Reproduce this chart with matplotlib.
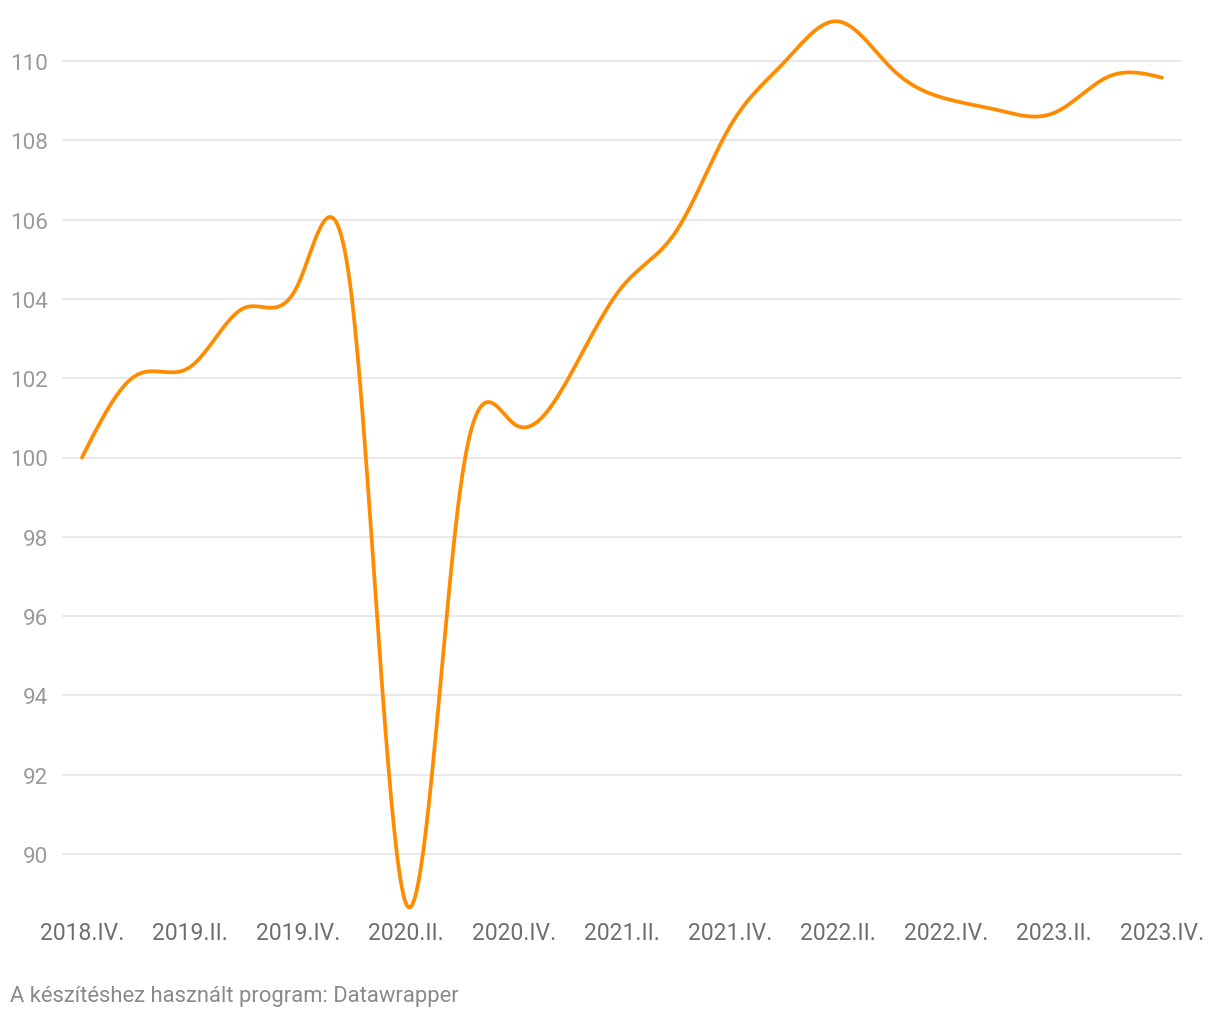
import numpy as np
import matplotlib
matplotlib.use("Agg")
import matplotlib.pyplot as plt

plt.rcParams['font.family'] = ['Roboto', 'DejaVu Sans']

# quarterly volume index, 2018.IV = 100
quarters = ['2018.IV.', '2019.I.', '2019.II.', '2019.III.', '2019.IV.',
            '2020.I.', '2020.II.', '2020.III.', '2020.IV.',
            '2021.I.', '2021.II.', '2021.III.', '2021.IV.',
            '2022.I.', '2022.II.', '2022.III.', '2022.IV.',
            '2023.I.', '2023.II.', '2023.III.', '2023.IV.']
values = [100.0, 102.07, 102.28, 103.77, 104.36,
          103.98, 88.75, 99.15, 100.85,
          101.98, 104.3, 105.7, 108.35,
          109.96, 111.0, 109.8, 109.05,
          108.75, 108.69, 109.6, 109.58]
yticks = [90, 92, 94, 96, 98, 100, 102, 104, 106, 108, 110]

LINE = '#ff8c00'
GRID = '#e3e3e3'


def natural_spline(y, steps=40):
    """natural cubic spline through equally spaced points (like d3 curveNatural)"""
    y = np.asarray(y, dtype=float)
    n = len(y)
    A = np.zeros((n, n))
    b = np.zeros(n)
    A[0, 0] = 1
    A[-1, -1] = 1
    for i in range(1, n - 1):
        A[i, i - 1] = 1
        A[i, i] = 4
        A[i, i + 1] = 1
        b[i] = 6 * (y[i + 1] - 2 * y[i] + y[i - 1])
    M = np.linalg.solve(A, b)
    xs, ys = [], []
    for i in range(n - 1):
        t = np.linspace(0, 1, steps, endpoint=False)
        a = y[i]
        c2 = M[i] / 2
        c3 = (M[i + 1] - M[i]) / 6
        c1 = (y[i + 1] - y[i]) - (2 * M[i] + M[i + 1]) / 6
        xs.append(i + t)
        ys.append(a + c1 * t + c2 * t ** 2 + c3 * t ** 3)
    xs.append([n - 1])
    ys.append([y[-1]])
    return np.concatenate(xs), np.concatenate(ys)


W, H = 1220, 1020
fig = plt.figure(figsize=(W / 100, H / 100), dpi=100)
ax_left, ax_right, ax_top, ax_bot = 62, 1182, 0, 910
ax = fig.add_axes([ax_left / W, 1 - ax_bot / H, (ax_right - ax_left) / W, (ax_bot - ax_top) / H])

px_per_unit = (855 - 62) / 20.0
ax.set_ylim(90 - (ax_bot - 855) / px_per_unit, 110 + (62 - ax_top) / px_per_unit)
n = len(values)
px_per_q = (1162 - 82) / (n - 1)
ax.set_xlim(-(82 - ax_left) / px_per_q, (n - 1) + (ax_right - 1162) / px_per_q)

for v in yticks:
    ax.axhline(v, color=GRID, lw=1.1, zorder=1)

xs, ys = natural_spline(values)
ax.plot(xs, ys, color=LINE, lw=2.7, solid_capstyle='round', clip_on=False, zorder=3)

ax.set_yticks(yticks)
ax.set_yticklabels([str(v) for v in yticks])
ax.set_xticks(range(0, n, 2))
ax.set_xticklabels(quarters[::2])
ax.tick_params(axis='y', length=0, pad=10, labelsize=16.2, labelcolor='#9a9a9a')
ax.tick_params(axis='x', length=0, pad=9, labelsize=16.5, labelcolor='#6e6e6e')
for s in ax.spines.values():
    s.set_visible(False)

fig.text(10 / W, 1 - 997 / H, 'A készítéshez használt program: Datawrapper',
         fontsize=15.8, color='#8a8a8a', ha='left', va='center')

fig.savefig('out.png', dpi=100, facecolor='white')
